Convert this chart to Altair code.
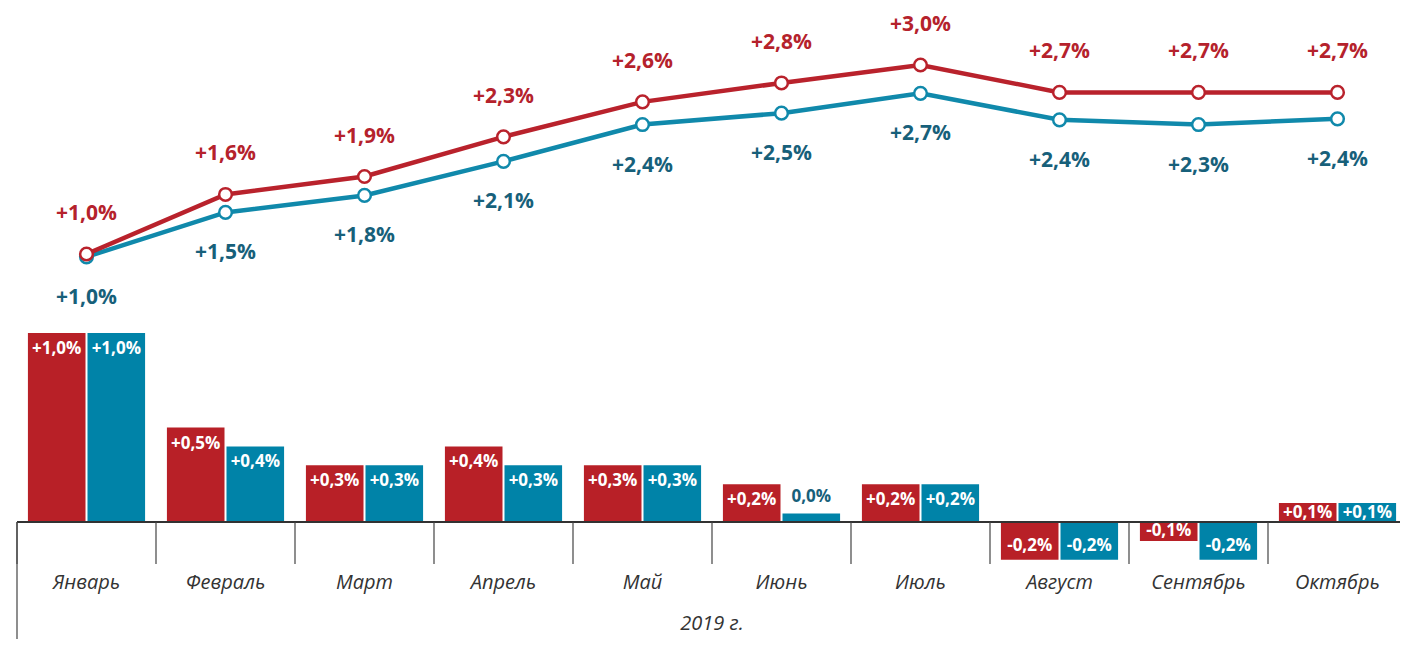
import altair as alt
import pandas as pd

# ---------------- data ----------------
months = ["Январь", "Февраль", "Март", "Апрель", "Май", "Июнь", "Июль",
          "Август", "Сентябрь", "Октябрь"]

# month-on-month change, %
red_month = [1.0, 0.5, 0.3, 0.4, 0.3, 0.2, 0.2, -0.2, -0.1, 0.1]
teal_month = [1.0, 0.4, 0.3, 0.3, 0.3, 0.045, 0.2, -0.2, -0.2, 0.1]
red_month_lbl = ["+1,0%", "+0,5%", "+0,3%", "+0,4%", "+0,3%", "+0,2%", "+0,2%",
                 "-0,2%", "-0,1%", "+0,1%"]
teal_month_lbl = ["+1,0%", "+0,4%", "+0,3%", "+0,3%", "+0,3%", "0,0%", "+0,2%",
                  "-0,2%", "-0,2%", "+0,1%"]

# cumulative change since start of year, %
red_cum = [1.0, 1.63, 1.82, 2.24, 2.61, 2.81, 3.0, 2.71, 2.71, 2.71]
teal_cum = [0.97, 1.44, 1.62, 1.98, 2.37, 2.49, 2.70, 2.42, 2.37, 2.43]
red_cum_lbl = ["+1,0%", "+1,6%", "+1,9%", "+2,3%", "+2,6%", "+2,8%", "+3,0%",
               "+2,7%", "+2,7%", "+2,7%"]
teal_cum_lbl = ["+1,0%", "+1,5%", "+1,8%", "+2,1%", "+2,4%", "+2,5%", "+2,7%",
                "+2,4%", "+2,3%", "+2,4%"]

year_label = "2019 г."

# ---------------- styles ----------------
RED_BAR = "#B82027"
TEAL_BAR = "#0083A8"
RED_LINE = "#B9222C"
TEAL_LINE = "#1089AB"
RED_TXT = "#B5222C"
TEAL_TXT = "#17607A"
AXIS_TXT = "#333333"
FONT = "Open Sans"

rows = []
for i, m in enumerate(months):
    rows.append(dict(month=m, series="A", value=red_month[i], label=red_month_lbl[i],
                     cum=red_cum[i], cum_label=red_cum_lbl[i]))
    rows.append(dict(month=m, series="B", value=teal_month[i], label=teal_month_lbl[i],
                     cum=teal_cum[i], cum_label=teal_cum_lbl[i]))
df = pd.DataFrame(rows)
months_df = pd.DataFrame({"month": months})
year_df = pd.DataFrame({"year": [year_label]})

W, H = 1383, 631
XR = 1390
xscale = alt.Scale(domain=months, range=[0, XR], paddingInner=0, paddingOuter=0)
offscale = alt.Scale(domain=["A", "B"], paddingInner=1 / 30, paddingOuter=0.1833)
bar_scale = alt.Scale(domain=[-117 / 189, 514 / 189], nice=False, zero=False)
line_scale = alt.Scale(domain=[-290.5 / 94.5, 340.5 / 94.5], nice=False, zero=False)

X = alt.X("month:N", scale=xscale, axis=None)
XO = alt.XOffset("series:N", scale=offscale)

base = alt.Chart(df)

bars = base.mark_bar().encode(
    x=X, xOffset=XO,
    y=alt.Y("value:Q", scale=bar_scale, axis=None),
    color=alt.Color("series:N", scale=alt.Scale(domain=["A", "B"], range=[RED_BAR, TEAL_BAR]),
                    legend=None),
)

bar_text = base.transform_calculate(
    lab_y="datum.value >= 0.08 ? datum.value - min(datum.value / 2, 0.085) : "
          "(datum.value >= 0 ? datum.value + 0.085 : datum.value + min(-datum.value / 2, 0.074))",
    tcol=f"datum.value >= 0 && datum.value < 0.08 ? '{TEAL_TXT}' : 'white'",
).mark_text(font=FONT, fontWeight="bold", fontSize=17, baseline="middle").encode(
    x=X, xOffset=XO,
    y=alt.Y("lab_y:Q", scale=bar_scale, axis=None),
    text="label:N",
    color=alt.Color("tcol:N", scale=None),
)

baseline = alt.Chart(months_df).mark_rule(color="#333333", strokeWidth=1.5).encode(
    y=alt.YDatum(0, scale=bar_scale, axis=None),
    x=alt.value(0), x2=alt.value(W + 20),
)

dividers = alt.Chart(months_df).mark_rule(color="#444444", strokeWidth=1.2).encode(
    x=alt.X("month:N", scale=xscale, axis=None, bandPosition=0),
    y=alt.value(514), y2=alt.value(556),
)
left_line = alt.Chart(months_df).transform_filter(
    alt.datum.month == months[0]
).mark_rule(color="#444444", strokeWidth=1.2).encode(
    x=alt.X("month:N", scale=xscale, axis=None, bandPosition=0),
    y=alt.value(514), y2=alt.value(H),
)

month_text = alt.Chart(months_df).mark_text(
    font=FONT, fontStyle="italic", fontSize=20, color=AXIS_TXT, baseline="middle"
).encode(x=X, y=alt.value(575), text="month:N")

year_text = alt.Chart(year_df).mark_text(
    font=FONT, fontStyle="italic", fontSize=20, color=AXIS_TXT, baseline="middle"
).encode(x=alt.value(XR / 2), y=alt.value(616), text="year:N")


def series_layers(s, line_col, txt_col, dy):
    d = base.transform_filter(alt.datum.series == s)
    Y = alt.Y("cum:Q", scale=line_scale, axis=None)
    line = d.mark_line(color=line_col, strokeWidth=4.5).encode(x=X, y=Y)
    pts = d.mark_point(shape="circle", filled=True, fill="white", stroke=line_col,
                       strokeWidth=2.5, size=160, opacity=1).encode(x=X, y=Y)
    txt = d.mark_text(font=FONT, fontWeight="bold", fontSize=21, color=txt_col,
                      baseline="middle", dy=dy).encode(x=X, y=Y, text="cum_label:N")
    return [line, pts, txt]


layers = [bars, bar_text, baseline, dividers, left_line, month_text, year_text]
layers += series_layers("B", TEAL_LINE, TEAL_TXT, 41)
layers += series_layers("A", RED_LINE, RED_TXT, -40)

chart = alt.layer(*layers).resolve_scale(y="independent").properties(
    width=W, height=H,
    padding={"left": 9, "right": 0, "top": 0, "bottom": 0},
    autosize=alt.AutoSizeParams(type="none"),
).configure_view(stroke=None)

chart.save("out.html", embed_options={"renderer": "svg", "actions": False})
